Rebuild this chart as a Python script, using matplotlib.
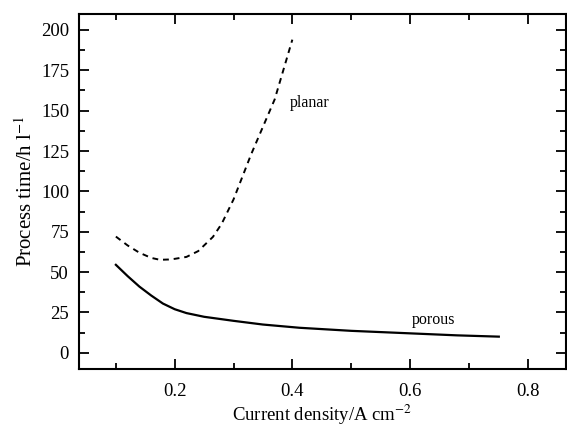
import numpy as np
import matplotlib.pyplot as plt
from matplotlib.ticker import MultipleLocator

plt.rcParams['font.family'] = ['Liberation Serif', 'DejaVu Serif']
plt.rcParams['mathtext.fontset'] = 'stix'

# planar electrode (dashed)
planar_x = [0.10, 0.12, 0.14, 0.16, 0.175, 0.19, 0.20, 0.22, 0.24, 0.265, 0.28, 0.30, 0.33, 0.37, 0.40]
planar_y = [72, 66.5, 62, 58.8, 57.6, 57.8, 58.2, 59.4, 63, 71.8, 80, 95, 123, 157, 194]

# porous electrode (solid)
porous_x = [0.10, 0.12, 0.14, 0.16, 0.18, 0.20, 0.22, 0.25, 0.30, 0.35, 0.412, 0.50, 0.603, 0.68, 0.751]
porous_y = [54.5, 47.5, 41, 35.5, 30.5, 27, 24.6, 22.3, 19.8, 17.5, 15.5, 13.6, 12.0, 10.8, 10.0]

fig = plt.figure(figsize=(5.67, 4.32), dpi=100)
ax = fig.add_axes([0.139, 0.146, 0.859, 0.822])

ax.plot(planar_x, planar_y, color='black', linestyle=(0, (3, 2.5)), linewidth=1.4)
ax.plot(porous_x, porous_y, color='black', linestyle='-', linewidth=1.6)

ax.text(0.43, 155, "planar", fontsize=11.5, ha='center', va='center')
ax.text(0.64, 20.5, "porous", fontsize=11.5, ha='center', va='center')

ax.set_xlim(0.037, 0.865)
ax.set_ylim(-10, 210)
ax.xaxis.set_major_locator(MultipleLocator(0.2))
ax.xaxis.set_minor_locator(MultipleLocator(0.1))
ax.yaxis.set_major_locator(MultipleLocator(25))
ax.yaxis.set_minor_locator(MultipleLocator(12.5))
ax.set_xticks([0.2, 0.4, 0.6, 0.8])
ax.set_xticklabels(["0.2", "0.4", "0.6", "0.8"])
ax.set_yticks(range(0, 201, 25))

ax.tick_params(which='both', direction='in', top=True, right=True, labelsize=13.5, width=1.3)
ax.tick_params(which='major', length=7)
ax.tick_params(which='minor', length=4)
ax.tick_params(axis='x', pad=10)
ax.tick_params(axis='y', pad=7)
for s in ax.spines.values():
    s.set_linewidth(1.5)

ax.set_xlabel("Current density/A cm$^{-2}$", fontsize=13.5, labelpad=2)
ax.set_ylabel("Process time/h l$^{-1}$", fontsize=15, labelpad=3)

fig.savefig("out.png", dpi=100)
